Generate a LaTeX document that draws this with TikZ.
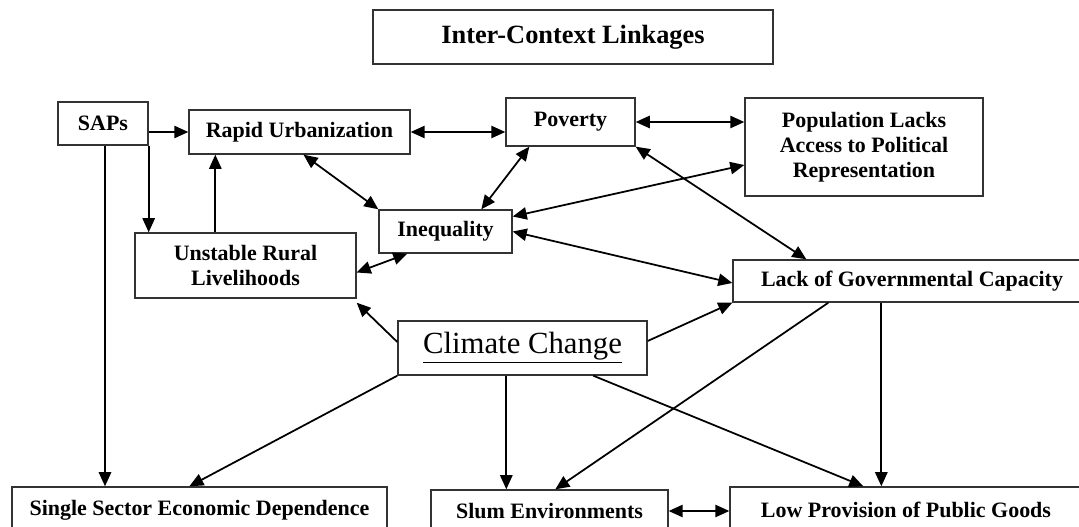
\documentclass[tikz,border=0pt]{standalone}
\usepackage{fontspec}
\setmainfont{Liberation Serif}
\usetikzlibrary{arrows.meta,calc}
\begin{document}
\begin{tikzpicture}[x=0.02cm, y=-0.02cm,
  box/.style={draw=black!80, line width=0.8pt, inner sep=0pt, align=center, font=\fontsize{12.5}{14.3}\selectfont\bfseries},
  link/.style={line width=1pt, -{Triangle[length=8pt,width=7pt]}},
  both/.style={line width=1pt, {Triangle[length=8pt,width=7pt]}-{Triangle[length=8pt,width=7pt]}}]
\useasboundingbox (0,0) rectangle (1079,527);
\clip (0,0) rectangle (1079,527);
% boxes
\node[box, minimum width=8cm, minimum height=1.08cm, font=\fontsize{15}{17}\selectfont\bfseries] (title) at (573,37){Inter-Context Linkages};
\node[box, minimum width=1.8cm, minimum height=0.86cm] (saps) at (103,123.5){SAPs};
\node[box, minimum width=4.42cm, minimum height=0.88cm] (rapid) at (299.5,132){Rapid Urbanization};
\node[box, minimum width=2.58cm, minimum height=0.96cm] (poverty) at (570.5,122){Poverty};
\node[box, minimum width=4.76cm, minimum height=1.96cm] (popul) at (864,147){Population Lacks\\Access to Political\\Representation};
\node[box, minimum width=2.66cm, minimum height=0.86cm] (ineq) at (445.5,231.5){Inequality};
\node[box, minimum width=4.42cm, minimum height=1.30cm] (unstable) at (245.5,265.5){Unstable Rural\\Livelihoods};
\node[box, minimum width=7.16cm, minimum height=0.84cm] (lack) at (912,281){Lack of Governmental Capacity};
\node[box, minimum width=4.98cm, minimum height=1.08cm, font=\fontsize{17.5}{20}\selectfont] (climate) at (522.5,348){\underline{Climate Change}};
\node[box, minimum width=7.5cm, minimum height=0.92cm] (single) at (199.5,510){Single Sector Economic Dependence};
\node[box, minimum width=4.74cm, minimum height=0.84cm] (slum) at (549.5,511){Slum Environments};
\node[box, minimum width=7.04cm, minimum height=0.92cm] (low) at (906,510){Low Provision of Public Goods};
% start points of the straight drops
\coordinate (sapsdrop) at ($(saps.south)+(2,0)$);
\coordinate (ruralup) at ($(unstable.north west)+(81,0)$);
\coordinate (ccdrop) at ($(climate.south west)+(109,0)$);
\coordinate (lackdrop) at ($(lack.south west)+(149,0)$);
% SAPs
\draw[link] (saps.east |- rapid.west) -- (rapid.west);
\draw[link] (saps.south east) -- (saps.south east |- unstable.north);
\draw[link] (sapsdrop) -- (sapsdrop |- single.north);
\draw[link] (ruralup) -- (ruralup |- rapid.south);
% two-way links
\draw[both] (rapid.east) -- (poverty.west |- rapid.east);
\draw[both] (poverty.east) -- (poverty.east -| popul.west);
\draw[both] ($(rapid.south)+(4,0)$) -- (ineq.north west);
\draw[both] ($(poverty.south west)+(24,0)$) -- ($(ineq.north west)+(103,0)$);
\draw[both] ($(popul.west)+(0,18)$) -- ($(ineq.east)+(0,-15)$);
\draw[both] (ineq.east) -- ($(lack.west)+(0,2)$);
\draw[both] (poverty.south east) -- ($(lack.north west)+(74,0)$);
\draw[both] ($(unstable.east)+(0,7)$) -- ($(ineq.south west)+(29,0)$);
\draw[both] (slum.east) -- (slum.east -| low.west);
% climate change
\draw[link] ($(climate.west)+(0,-6)$) -- ($(unstable.south east)+(0,4)$);
\draw[link] ($(climate.east)+(0,-7)$) -- (lack.south west);
\draw[link] (climate.south west) -- ($(single.north west)+(178,0)$);
\draw[link] (ccdrop) -- (ccdrop |- slum.north);
\draw[link] ($(climate.south west)+(196,0)$) -- ($(low.north west)+(134,0)$);
% lack of capacity
\draw[link] ($(lack.south west)+(96,0)$) -- ($(slum.north west)+(125,0)$);
\draw[link] (lackdrop) -- (lackdrop |- low.north);
\end{tikzpicture}
\end{document}
